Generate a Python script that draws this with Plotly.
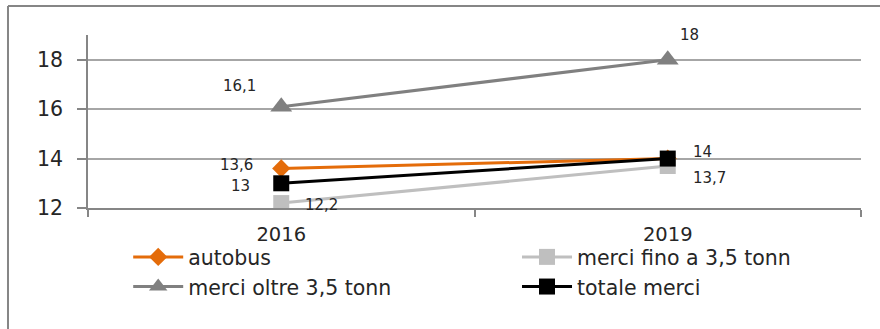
import plotly.graph_objects as go

# Categories and series values
years = ["2016", "2019"]
autobus = [13.6, 14.0]
merci_fino = [12.2, 13.7]
merci_oltre = [16.1, 18.0]
totale_merci = [13.0, 14.0]

series_names = ["autobus", "merci fino a 3,5 tonn", "merci oltre 3,5 tonn", "totale merci"]
y_ticks = [12, 14, 16, 18]

FONT = "DejaVu Sans"
TEXT_COLOR = "#262626"
AXIS_COLOR = "#868686"
GRID_COLOR = "#A6A6A6"

styles = {
    "autobus": dict(color="#E46C0A", symbol="diamond", size=14, legend="legend"),
    "merci fino a 3,5 tonn": dict(color="#BFBFBF", symbol="square", size=16, legend="legend2"),
    "merci oltre 3,5 tonn": dict(color="#808080", symbol="triangle-up", size=19, legend="legend"),
    "totale merci": dict(color="#000000", symbol="square", size=16, legend="legend2"),
}
values = {
    "autobus": autobus,
    "merci fino a 3,5 tonn": merci_fino,
    "merci oltre 3,5 tonn": merci_oltre,
    "totale merci": totale_merci,
}

fig = go.Figure()
for name in series_names:
    st = styles[name]
    fig.add_trace(go.Scatter(
        x=years, y=values[name], name=name, mode="lines+markers",
        line=dict(color=st["color"], width=3),
        marker=dict(symbol=st["symbol"], size=st["size"], color=st["color"],
                    line=dict(width=0)),
        legend=st["legend"],
        hoverinfo="skip",
    ))

# Value labels: (series, point index, x offset px, y offset px)
label_layout = [
    ("merci oltre 3,5 tonn", 0, -42, 21),
    ("autobus", 0, -45, 3),
    ("totale merci", 0, -41, -3),
    ("merci fino a 3,5 tonn", 0, 40, -2),
    ("merci oltre 3,5 tonn", 1, 22, 25),
    ("totale merci", 1, 35, 7),
    ("merci fino a 3,5 tonn", 1, 42, -12),
]


def fmt(v):
    s = f"{v:.1f}".rstrip("0").rstrip(".")
    return s.replace(".", ",")


for name, i, dx, dy in label_layout:
    v = values[name][i]
    # category axes place annotations by category index
    fig.add_annotation(
        x=i, y=v, text=fmt(v), showarrow=False,
        xshift=dx, yshift=dy,
        font=dict(family=FONT, size=15, color=TEXT_COLOR),
    )

# Outer frame (top and left edges)
fig.add_shape(type="line", xref="paper", yref="paper",
              x0=-0.1035, x1=1.05, y0=1.1676, y1=1.1676,
              line=dict(color=AXIS_COLOR, width=2))
fig.add_shape(type="line", xref="paper", yref="paper",
              x0=-0.1035, x1=-0.1035, y0=1.1676, y1=-0.75,
              line=dict(color=AXIS_COLOR, width=2))

legend_common = dict(
    orientation="v", y=-0.168, xanchor="left", yanchor="top",
    font=dict(family=FONT, size=20.5, color=TEXT_COLOR),
    itemwidth=50, bgcolor="rgba(0,0,0,0)", tracegroupgap=0,
)

fig.update_layout(
    width=880, height=329,
    margin=dict(l=88, r=19, t=35, b=121),
    paper_bgcolor="white", plot_bgcolor="white",
    font=dict(family=FONT, color=TEXT_COLOR),
    showlegend=True,
    legend=dict(x=0.052, **legend_common),
    legend2=dict(x=0.555, **legend_common),
    xaxis=dict(
        type="category", range=[-0.5, 1.5],
        showline=True, linecolor=AXIS_COLOR, linewidth=1.5,
        ticks="outside", tickson="boundaries", ticklen=7,
        tickcolor=AXIS_COLOR, tickwidth=1.5,
        showgrid=False, zeroline=False,
        tickfont=dict(family=FONT, size=19.5, color=TEXT_COLOR),
        ticklabelstandoff=8,
    ),
    yaxis=dict(
        range=[12, 19], tickvals=y_ticks,
        showline=True, linecolor=AXIS_COLOR, linewidth=1.5,
        ticks="outside", ticklen=9, tickcolor=AXIS_COLOR, tickwidth=1.5,
        showgrid=True, gridcolor=GRID_COLOR, gridwidth=1.5,
        zeroline=False,
        tickfont=dict(family=FONT, size=20.5, color=TEXT_COLOR),
        ticklabelstandoff=10,
    ),
)

fig.write_html("out.html")
